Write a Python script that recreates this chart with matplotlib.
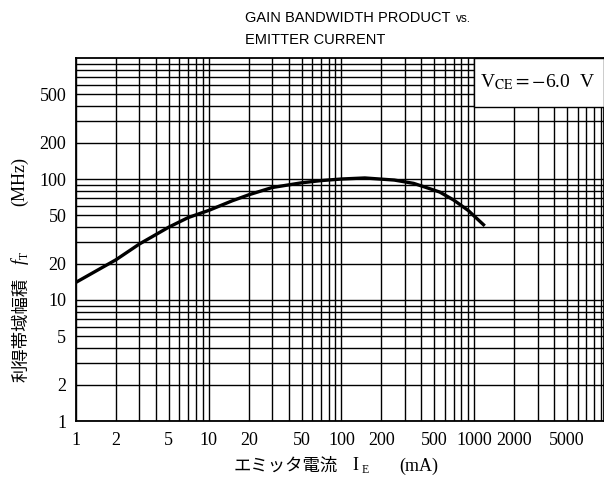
import matplotlib
matplotlib.use("Agg")
import matplotlib.pyplot as plt
from matplotlib.ticker import LogLocator, NullFormatter, FixedLocator, FixedFormatter
from matplotlib.patches import Rectangle

plt.rcParams["mathtext.fontset"] = "stix"

# emitter current (mA) and gain bandwidth product (MHz)
ie = [1, 1.5, 2, 3, 5, 7, 10, 15, 20, 30, 50, 70, 100, 150, 250, 350, 450, 550, 700, 900, 1200]
ft = [14, 18, 21.5, 29, 40, 48, 55, 66, 74, 85, 93, 97, 100, 102, 98, 92, 84, 78, 67, 55, 41]

xticks = [1, 2, 5, 10, 20, 50, 100, 200, 500, 1000, 2000, 5000]
yticks = [1, 2, 5, 10, 20, 50, 100, 200, 500]

fig = plt.figure(figsize=(6.04, 4.83), dpi=100)
ax = fig.add_axes([76 / 604, 62 / 483, 1 - 76 / 604, (421 - 58) / 483])
ax.set_xscale("log")
ax.set_yscale("log")
ax.set_xlim(1, 9500)
ax.set_ylim(1, 1000)

ax.xaxis.set_minor_locator(LogLocator(base=10, subs=range(2, 10)))
ax.yaxis.set_minor_locator(LogLocator(base=10, subs=range(2, 10)))
ax.xaxis.set_minor_formatter(NullFormatter())
ax.yaxis.set_minor_formatter(NullFormatter())
ax.xaxis.set_major_locator(FixedLocator(xticks))
ax.xaxis.set_major_formatter(FixedFormatter([str(v) for v in xticks]))
ax.yaxis.set_major_locator(FixedLocator(yticks))
ax.yaxis.set_major_formatter(FixedFormatter([str(v) for v in yticks]))
ax.tick_params(which="both", length=0)
ax.tick_params(axis="x", pad=8)
ax.tick_params(axis="y", pad=7)
for lab in ax.get_xticklabels() + ax.get_yticklabels():
    lab.set_family("Liberation Serif")
    lab.set_fontsize(13)

ax.grid(which="both", color="black", lw=1.0)
for s in ax.spines.values():
    s.set_linewidth(1.3)

ax.plot(ie, ft, color="black", lw=2.4, solid_capstyle="butt", zorder=3)

# condition box in the upper right corner
ax.add_patch(Rectangle((1000, 390), 9500 - 1000, 1000 - 390, facecolor="white",
                       edgecolor="black", lw=1.0, zorder=4, clip_on=False))
ax.text(3000, 630, r"V$_{\rm CE}$$=$$-$6.0  V", family="Liberation Serif",
        fontsize=14, ha="center", va="center", zorder=5)

# title, "vs." placed right after the first line
t1 = fig.text(245 / 604, 1 - 18 / 483, "GAIN BANDWIDTH PRODUCT", family="Liberation Sans",
              fontsize=10.5, ha="left", va="center")
fig.canvas.draw()
bb = t1.get_window_extent()
fig.text((bb.x1 + 5) / 604, 1 - 19 / 483, "vs.", family="Liberation Sans",
         fontsize=8.5, ha="left", va="center")
fig.text(245 / 604, 1 - 40 / 483, "EMITTER CURRENT", family="Liberation Sans",
         fontsize=10.5, ha="left", va="center")

# x label
jp = ["Noto Sans CJK JP", "DejaVu Sans"]
fig.text(286 / 604, 1 - 466 / 483, "エミッタ電流", family=jp, fontsize=12.5,
         ha="center", va="center")
fig.text(355 / 604, 1 - 466 / 483, "I", family="Liberation Serif", fontsize=13,
         ha="center", va="center")
fig.text(365 / 604, 1 - 470 / 483, "E", family="Liberation Serif", fontsize=8.5,
         ha="center", va="center")
fig.text(419 / 604, 1 - 466 / 483, "(mA)", family="Liberation Serif", fontsize=13,
         ha="center", va="center")

# y label
fig.text(21 / 604, 1 - 330 / 483, "利得帯域幅積", family=jp, fontsize=12.5,
         rotation=90, ha="center", va="center")
fig.text(20 / 604, 1 - 262 / 483, "f", family="Liberation Serif", fontsize=13,
         style="italic", rotation=90, ha="center", va="center")
fig.text(25 / 604, 1 - 255 / 483, "T", family="Liberation Serif", fontsize=8.5,
         rotation=90, ha="center", va="center")
fig.text(20 / 604, 1 - 182 / 483, "(MHz)", family="Liberation Serif", fontsize=13,
         rotation=90, ha="center", va="center")

fig.savefig("out.png", dpi=100)
